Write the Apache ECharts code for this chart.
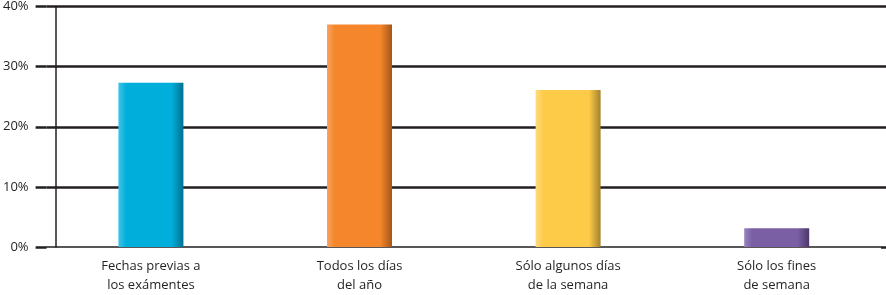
<!DOCTYPE html>
<html><head><meta charset="utf-8">
<script src="https://cdn.jsdelivr.net/npm/echarts@6/dist/echarts.min.js"></script>
<style>html,body{margin:0;padding:0;background:#fff}#c{width:886px;height:295px}</style>
</head><body><div id="c"></div>
<script>
const categories = ['Fechas previas a\nlos exámentes', 'Todos los días\ndel año', 'Sólo algunos días\nde la semana', 'Sólo los fines\nde semana'];
const values = [27.3, 37, 26.1, 3.1];
const barColors = [
  ['#3fc3e8', '#00aedb', '#006f8e'],
  ['#f8a35f', '#f5862b', '#a4561a'],
  ['#fedb80', '#fecb48', '#a3822d'],
  ['#9a84c0', '#7a5fa5', '#4b3768']
];
const yTicks = [0, 10, 20, 30, 40];

function grad(c) {
  return {
    type: 'linear', x: 0, y: 0, x2: 1, y2: 0,
    colorStops: [
      {offset: 0, color: c[0]},
      {offset: 0.12, color: c[1]},
      {offset: 0.82, color: c[1]},
      {offset: 1, color: c[2]}
    ]
  };
}

const chart = echarts.init(document.getElementById('c'));
chart.setOption({
  animation: false,
  grid: {left: 44, right: 5, top: 4, bottom: 46},
  xAxis: {
    type: 'category',
    data: categories,
    axisLine: {show: true, lineStyle: {color: '#231f20', width: 1.5}},
    axisTick: {show: false},
    axisLabel: {fontFamily: 'Open Sans', fontSize: 13, color: '#231f20', lineHeight: 19, margin: 10}
  },
  yAxis: [{
    type: 'value', min: yTicks[0], max: yTicks[yTicks.length - 1], interval: 10,
    axisLine: {show: false},
    axisTick: {show: true, length: 11, lineStyle: {color: '#231f20', width: 2.5}},
    splitLine: {show: true, showMinLine: false, lineStyle: {color: '#231f20', width: 2.5}},
    axisLabel: {fontFamily: 'Open Sans', fontSize: 13, color: '#231f20', margin: 18, formatter: '{value}%'}
  }, {
    type: 'value', min: 0, max: 40, position: 'left', offset: -9,
    axisLine: {show: true, lineStyle: {color: '#231f20', width: 1.5}},
    axisTick: {show: false}, axisLabel: {show: false}, splitLine: {show: false}
  }, {
    type: 'value', min: 0, max: 40, interval: 10, position: 'right',
    axisLine: {show: false},
    axisTick: {show: true, length: 6, lineStyle: {color: '#231f20', width: 2.5}},
    axisLabel: {show: false}, splitLine: {show: false}
  }],
  series: [{
    type: 'bar',
    barWidth: 65,
    data: values.map((v, i) => ({value: v, itemStyle: {color: grad(barColors[i])}})),
    z: 3
  }]
});
</script></body></html>
